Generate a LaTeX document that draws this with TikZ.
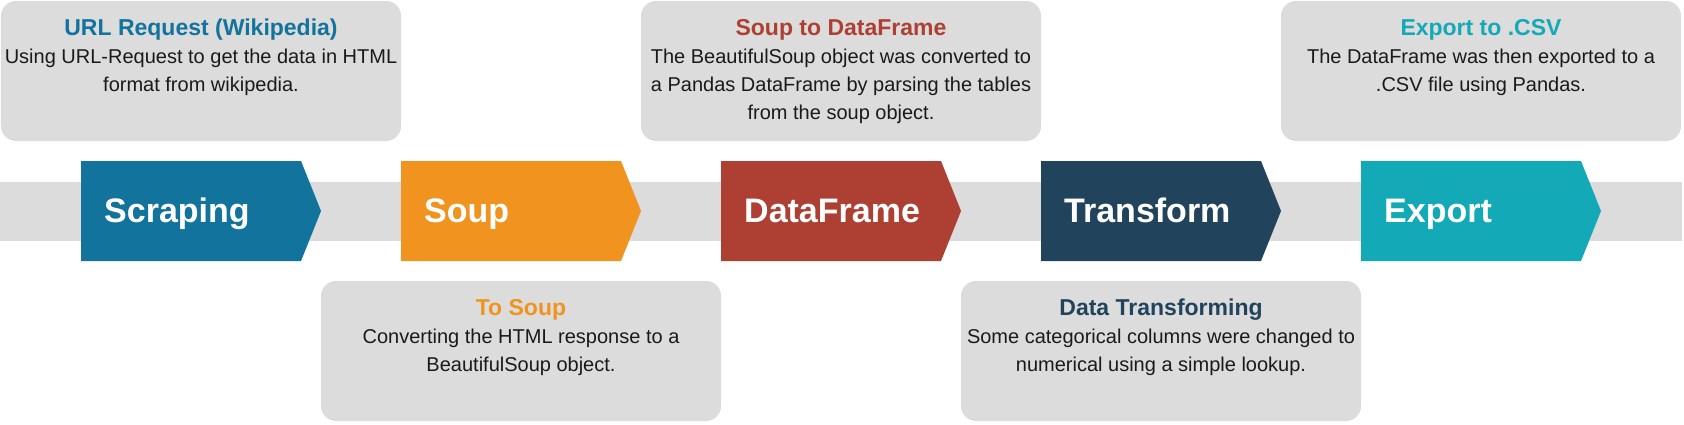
\documentclass[tikz,border=0pt]{standalone}
\usepackage{fontspec}
\setmainfont{Liberation Sans}
\definecolor{scrapeblue}{HTML}{12739C}
\definecolor{souporange}{HTML}{F1941F}
\definecolor{framered}{HTML}{AD4033}
\definecolor{transnavy}{HTML}{21445C}
\definecolor{exportteal}{HTML}{14A9B6}
\definecolor{boxgray}{HTML}{DCDCDC}
\definecolor{bodytext}{HTML}{1A1A1A}
\newcommand{\boxtitle}[2]{{\fontsize{23bp}{28bp}\selectfont\bfseries\color{#1}\rule{0pt}{17bp}#2}}
\begin{document}
\begin{tikzpicture}[
  x = 1bp,
  y = -1bp,
  steplabel/.style = {
    anchor = base west,
    text = white,
    inner sep = 0pt,
    font = \fontsize{34bp}{40bp}\selectfont\bfseries,
  },
  infobox/.style = {
    shape = rectangle,
    fill = boxgray,
    rounded corners = 15bp,
    minimum width = 400bp,
    minimum height = 140bp,
    inner sep = 0pt,
  },
  infotext/.style = {
    anchor = north,
    align = center,
    inner sep = 0pt,
    text = bodytext,
    font = \fontsize{20bp}{28bp}\selectfont,
  }
]
  \useasboundingbox (0, 0) rectangle (1684, 424);

  % gray band behind the steps
  \fill[boxgray] (0, 182) rectangle (1682, 241);

  % the five chevrons
  \foreach \x/\col/\lab/\name in {81/scrapeblue/Scraping/s1, 401/souporange/Soup/s2,
      721/framered/DataFrame/s3, 1041/transnavy/Transform/s4, 1361/exportteal/Export/s5} {
    \fill[\col] (\x, 161) -- ++(220, 0) -- ++(20, 50) -- ++(-20, 50) -- ++(-220, 0) -- cycle;
    \node[steplabel] (\name) at (\x + 23, 222) {\lab};
  }

  % boxes above and below
  \node[infobox] (b1) at (201, 71) {};
  \node[infotext] (t1) at (201, 18) {\boxtitle{scrapeblue}{URL Request (Wikipedia)}\\
    Using URL-Request to get the data in HTML\\ format from wikipedia.};

  \node[infobox] (b2) at (521, 351) {};
  \node[infotext] (t2) at (521, 298) {\boxtitle{souporange}{To Soup}\\
    Converting the HTML response to a\\ BeautifulSoup object.};

  \node[infobox] (b3) at (841, 71) {};
  \node[infotext] (t3) at (841, 18) {\boxtitle{framered}{Soup to DataFrame}\\
    The BeautifulSoup object was converted to\\ a Pandas DataFrame by parsing the tables\\
    from the soup object.};

  \node[infobox] (b4) at (1161, 351) {};
  \node[infotext] (t4) at (1161, 298) {\boxtitle{transnavy}{Data Transforming}\\
    Some categorical columns were changed to\\ numerical using a simple lookup.};

  \node[infobox] (b5) at (1481, 71) {};
  \node[infotext] (t5) at (1481, 18) {\boxtitle{exportteal}{Export to .CSV}\\
    The DataFrame was then exported to a\\ .CSV file using Pandas.};
\end{tikzpicture}
\end{document}
